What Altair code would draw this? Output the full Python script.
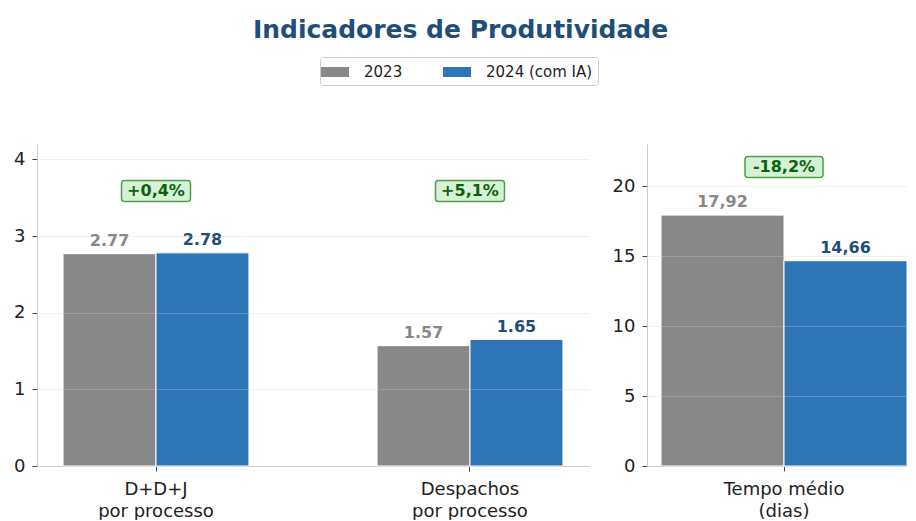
import altair as alt
import pandas as pd

# ---------------- data ----------------
years = ["2023", "2024 (com IA)"]

cats_left = ["D+D+J\npor processo", "Despachos\npor processo"]
vals_2023_left = [2.77, 1.57]
vals_2024_left = [2.78, 1.65]
text_2023_left = ["2.77", "1.57"]
text_2024_left = ["2.78", "1.65"]
badges_left = ["+0,4%", "+5,1%"]

cats_right = ["Tempo médio\n(dias)"]
vals_2023_right = [17.92]
vals_2024_right = [14.66]
text_2023_right = ["17,92"]
text_2024_right = ["14,66"]
badges_right = ["-18,2%"]

left_ticks = [0, 1, 2, 3, 4]
right_ticks = [0, 5, 10, 15, 20]

# ---------------- style ----------------
GRAY = "#888888"
BLUE = "#2e75b6"
DARK_BLUE = "#1f4e79"
FONT = "DejaVu Sans"


def badge_path(w, h, r=3.0, unit=6.0):
    hw, hh, rr = w / 2 / unit, h / 2 / unit, r / unit
    return (f"M{-hw+rr},{-hh} H{hw-rr} A{rr},{rr} 0 0 1 {hw},{-hh+rr} "
            f"V{hh-rr} A{rr},{rr} 0 0 1 {hw-rr},{hh} H{-hw+rr} "
            f"A{rr},{rr} 0 0 1 {-hw},{hh-rr} V{-hh+rr} A{rr},{rr} 0 0 1 {-hw+rr},{-hh} Z")


def make_panel(cats, v23, v24, t23, t24, badges, ymax, ticks, width, height,
               xscale, badge_w, badge_factor):
    rows = []
    for c, a, b, ta, tb in zip(cats, v23, v24, t23, t24):
        rows.append({"cat": c, "year": years[0], "value": a, "label": ta})
        rows.append({"cat": c, "year": years[1], "value": b, "label": tb})
    df = pd.DataFrame(rows)
    top = max(v23 + v24)
    bdf = pd.DataFrame({"cat": cats, "badge": badges,
                        "by": [top * badge_factor] * len(cats)})

    x = alt.X("cat:N", sort=cats, scale=xscale, title=None,
              axis=alt.Axis(labelAngle=0, labelExpr="split(datum.label, '\\n')",
                            labelFontSize=18, labelLineHeight=22, labelPadding=9,
                            labelColor="#222222", tickColor="#444444", tickSize=5,
                            domainColor="#cccccc", grid=False, labelFont=FONT))
    y = alt.Y("value:Q", scale=alt.Scale(domain=[0, ymax], nice=False), title=None,
              axis=alt.Axis(values=ticks, format="d", labelFontSize=18,
                            labelColor="#222222",
                            tickColor="#444444", tickSize=5, labelPadding=7,
                            domainColor="#cccccc", grid=True, gridColor="#cccccc",
                            gridOpacity=0.3, zindex=1, labelFont=FONT))
    xoff = alt.XOffset("year:N", sort=years,
                       scale=alt.Scale(paddingInner=0, paddingOuter=0))
    color = alt.Color("year:N", sort=years,
                      scale=alt.Scale(domain=years, range=[GRAY, BLUE]),
                      legend=alt.Legend(title=None, orient="none", direction="horizontal",
                                        legendX=283, legendY=-87,
                                        symbolType="M-1.4,-0.5 H1.4 V0.5 H-1.4 Z",
                                        symbolSize=400, symbolStrokeWidth=0,
                                        labelFontSize=15, labelFont=FONT,
                                        labelColor="#222222", columnPadding=40,
                                        labelOffset=19, strokeColor="#cccccc",
                                        fillColor="white", cornerRadius=3,
                                        padding=5))

    bars = alt.Chart(df).mark_bar(stroke="white", strokeWidth=1).encode(
        x=x, xOffset=xoff, y=y, color=color)
    vtext = alt.Chart(df).mark_text(baseline="bottom", dy=-5, fontSize=16,
                                    fontWeight="bold", font=FONT).encode(
        x=alt.X("cat:N", sort=cats), xOffset=xoff, y="value:Q", text="label:N",
        color=alt.condition(alt.datum.year == years[0], alt.value(GRAY),
                            alt.value(DARK_BLUE)))
    bbox = alt.Chart(bdf).mark_point(shape=badge_path(badge_w, 21), size=144,
                                     filled=True, fill="#d6f1d6", stroke="#4e9f4e",
                                     strokeWidth=1.5, opacity=1).encode(
        x=alt.X("cat:N", sort=cats), y=alt.Y("by:Q"))
    btext = alt.Chart(bdf).mark_text(fontSize=16, fontWeight="bold", color="#0a640a",
                                     font=FONT, baseline="middle").encode(
        x=alt.X("cat:N", sort=cats), y=alt.Y("by:Q"), text="badge:N")

    return alt.layer(bars, vtext, bbox, btext).properties(width=width, height=height)


left = make_panel(cats_left, vals_2023_left, vals_2024_left, text_2023_left,
                  text_2024_left, badges_left, 4.2, left_ticks, 552, 322,
                  alt.Scale(paddingInner=0.408, paddingOuter=0.083), 69, 1.29)
right = make_panel(cats_right, vals_2023_right, vals_2024_right, text_2023_right,
                   text_2024_right, badges_right, 23, right_ticks, 260, 322,
                   alt.Scale(paddingInner=0, paddingOuter=0.0285, align=1), 78, 1.192)

chart = alt.hconcat(left, right, spacing=23).resolve_scale(
    x="independent", xOffset="independent", y="independent"
).properties(
    title=alt.Title("Indicadores de Produtividade", fontSize=25, font=FONT,
                    fontWeight="bold", color=DARK_BLUE, anchor="middle", offset=14),
    padding={"left": 5, "top": 9, "right": 0, "bottom": 0},
).configure_view(stroke=None)

chart.save("out.html", embed_options={"renderer": "svg", "actions": False})
